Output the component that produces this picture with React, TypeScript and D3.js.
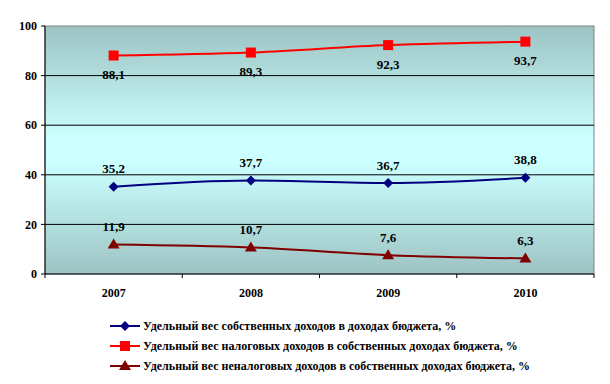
import React from 'react'
import * as d3 from 'd3'

const years = ['2007', '2008', '2009', '2010']
const ownShare = [35.2, 37.7, 36.7, 38.8]
const taxShare = [88.1, 89.3, 92.3, 93.7]
const nonTaxShare = [11.9, 10.7, 7.6, 6.3]
const yTicks = [0, 20, 40, 60, 80, 100]
const seriesNames = [
  'Удельный вес собственных доходов в доходах бюджета, %',
  'Удельный вес налоговых доходов в собственных доходах бюджета, %',
  'Удельный вес неналоговых доходов в собственных доходах бюджета, %',
]

const width = 610
const height = 384
const left = 45
const right = 594
const top = 26
const bottom = 274
const font = "'Times New Roman', Times, 'Liberation Serif', 'DejaVu Serif', serif"

const series = [
  { name: seriesNames[0], values: ownShare, color: '#000080', marker: 'diamond', labelBelow: false },
  { name: seriesNames[1], values: taxShare, color: '#ff0000', marker: 'square', labelBelow: true },
  { name: seriesNames[2], values: nonTaxShare, color: '#800000', marker: 'triangle', labelBelow: false },
]

const fmt = (v: number) => v.toFixed(1).replace('.', ',')

const Marker = ({ type, x, y, color }: { type: string; x: number; y: number; color: string }) => {
  if (type === 'square') return <rect x={x - 5} y={y - 5} width={10} height={10} fill={color} />
  if (type === 'diamond')
    return <path d={`M${x},${y - 5}L${x + 5},${y}L${x},${y + 5}L${x - 5},${y}Z`} fill={color} />
  return <path d={`M${x},${y - 6}L${x + 6},${y + 4}L${x - 6},${y + 4}Z`} fill={color} />
}

export default function App() {
  const x = d3.scaleBand().domain(years).range([left, right])
  const y = d3.scaleLinear().domain([0, 100]).range([bottom, top])
  const line = d3
    .line<number>()
    .x((_, i) => (x(years[i]) as number) + x.bandwidth() / 2)
    .y(d => y(d))
    .curve(d3.curveMonotoneX)

  return (
    <svg width={width} height={height} style={{ position: 'absolute', left: 0, top: 0, fontFamily: font }}>
      <defs>
        <linearGradient id="bg" x1="0" y1="0" x2="0" y2="1">
          <stop offset="0" stopColor="#9dc3c3" />
          <stop offset="0.45" stopColor="#ccffff" />
          <stop offset="0.55" stopColor="#ccffff" />
          <stop offset="1" stopColor="#9dc3c3" />
        </linearGradient>
      </defs>
      <rect x={left} y={top} width={right - left} height={bottom - top} fill="url(#bg)" stroke="#808080" strokeWidth={1} />
      {yTicks.map(t => (
        <g key={t}>
          {t > 0 && t < 100 && <line x1={left} x2={right} y1={y(t)} y2={y(t)} stroke="#000" strokeWidth={1} />}
          <line x1={left - 4} x2={left} y1={y(t)} y2={y(t)} stroke="#000" />
          <text x={left - 8} y={y(t)} dy="0.35em" textAnchor="end" fontSize={12} fontWeight="bold">
            {t}
          </text>
        </g>
      ))}
      <line x1={left} x2={left} y1={top} y2={bottom} stroke="#000" />
      <line x1={left} x2={right} y1={bottom} y2={bottom} stroke="#000" />
      {[...years.map(yr => x(yr) as number), right].map((v, i) => (
        <line key={i} x1={v} x2={v} y1={bottom} y2={bottom + 4} stroke="#000" />
      ))}
      {years.map(yr => (
        <text key={yr} x={(x(yr) as number) + x.bandwidth() / 2} y={bottom + 19} dy="0.35em" textAnchor="middle" fontSize={12} fontWeight="bold">
          {yr}
        </text>
      ))}
      {series.map(s => (
        <g key={s.name}>
          <path d={line(s.values) || ''} fill="none" stroke={s.color} strokeWidth={2} />
          {s.values.map((v, i) => {
            const cx = (x(years[i]) as number) + x.bandwidth() / 2
            const cy = y(v)
            return (
              <g key={i}>
                <Marker type={s.marker} x={cx} y={cy} color={s.color} />
                <text x={cx} y={s.labelBelow ? cy + 19 : cy - 18} dy="0.35em" textAnchor="middle" fontSize={13} fontWeight="bold">
                  {fmt(v)}
                </text>
              </g>
            )
          })}
        </g>
      ))}
      {series.map((s, i) => {
        const ly = 326 + i * 20
        return (
          <g key={s.name}>
            <line x1={110} x2={140} y1={ly} y2={ly} stroke={s.color} strokeWidth={2} />
            <Marker type={s.marker} x={125} y={ly} color={s.color} />
            <text x={143} y={ly} dy="0.35em" fontSize={12} fontWeight="bold">
              {s.name}
            </text>
          </g>
        )
      })}
    </svg>
  )
}
